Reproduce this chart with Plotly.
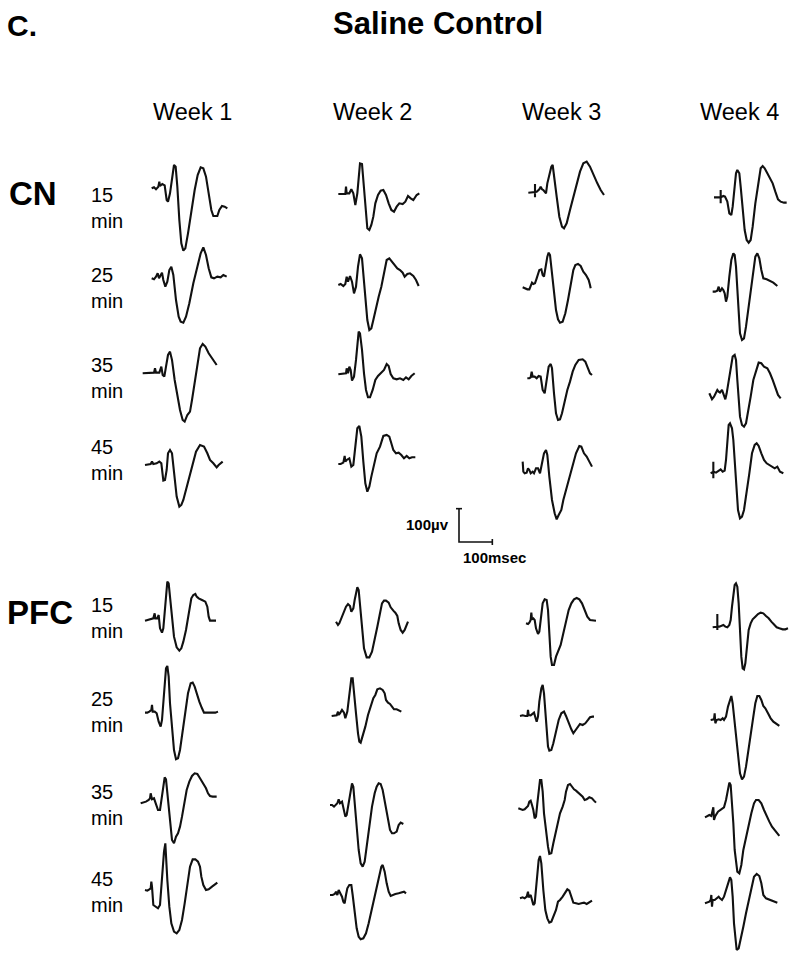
import plotly.graph_objects as go

# ---------------- text / categories ----------------
PANEL_LABEL = "C."
TITLE = "Saline Control"
WEEKS = ["Week 1", "Week 2", "Week 3", "Week 4"]
MINUTES = ["15", "25", "35", "45"]
REGIONS = ["CN", "PFC"]
SCALE_UV = 100   # µV
SCALE_MS = 100   # ms

# ---------------- waveform data: time (ms) and potential (µV, relative to row reference) ----
cn_w1_15_t = [65,72,78,85,88,90,97,104,110,114,120,126,132,137,142,148,154,160,166,174,184,194,203,212,220,228,236,244,250,262,268,276,284,292]
cn_w1_15_v = [5,8,2,10,25,12,18,14,-30,-35,-10,40,75,70,10,-90,-160,-182,-175,-130,-60,0,45,68,65,40,-10,-60,-78,-78,-60,-48,-50,-55]
cn_w1_25_t = [65,72,78,83,87,92,96,100,106,112,118,124,130,138,146,152,160,168,178,190,202,212,220,228,236,244,252,262,272,280,290]
cn_w1_25_v = [5,2,10,20,5,15,22,0,-20,-5,30,40,15,-60,-110,-125,-128,-110,-70,-10,40,80,98,75,35,8,5,10,8,15,10]
cn_w1_35_t = [38,50,62,72,75,78,88,94,98,103,108,114,120,126,134,142,150,158,164,172,180,186,194,202,210,218,226,236,244,252,260]
cn_w1_35_v = [0,0,0,2,15,2,2,20,-5,-10,20,55,65,40,-20,-70,-110,-140,-145,-125,-115,-80,-30,30,75,88,80,60,48,35,25]
cn_w1_45_t = [45,55,62,66,70,80,88,94,100,105,110,114,120,126,132,140,148,154,160,168,178,188,198,210,222,232,240,250,260,266,278]
cn_w1_45_v = [-5,-2,-2,5,-2,0,5,0,-52,-50,-20,30,40,30,-30,-100,-130,-125,-110,-80,-40,0,35,55,50,30,10,0,-12,-5,5]

cn_w2_15_t = [55,62,70,76,78,80,88,94,100,106,112,116,120,126,130,136,142,148,154,160,166,174,182,190,198,206,214,222,230,238,248,256,264,272,280,290,298]
cn_w2_15_v = [-12,-12,-10,-12,10,-10,-10,2,-10,-45,-10,50,80,78,30,-60,-115,-120,-105,-80,-40,-15,-2,0,-15,-40,-60,-65,-50,-40,-42,-35,-18,-25,-30,-15,-10]
cn_w2_25_t = [55,62,70,76,80,84,90,96,102,108,114,120,126,130,136,142,148,154,160,168,176,184,192,200,208,216,224,232,240,248,254,262,270,280,288,296]
cn_w2_25_v = [-15,-12,-18,-12,10,-5,12,-5,-40,-20,40,77,65,20,-60,-120,-150,-145,-120,-80,-50,-20,20,60,65,55,42,35,30,22,10,18,20,12,0,-18]
cn_w2_35_t = [55,62,70,78,80,84,88,92,96,102,108,112,116,120,126,132,138,144,150,158,166,174,182,192,200,206,212,220,230,240,250,258,266,274,284]
cn_w2_35_v = [-3,-2,-2,0,15,0,20,10,-22,-10,40,95,125,120,70,0,-50,-72,-72,-50,-20,-8,0,10,28,22,-2,-15,-18,-15,-20,-12,-18,-8,0]
cn_w2_45_t = [55,62,70,74,76,80,88,94,100,106,112,118,124,130,136,142,148,154,162,170,180,190,200,208,214,220,228,236,244,252,260,268,276,286]
cn_w2_45_v = [-2,-2,2,22,5,10,15,-10,-5,50,105,112,80,5,-60,-85,-70,-40,0,30,50,82,85,80,60,40,30,32,25,15,22,15,18,18]

cn_w3_15_t = [55,65,75,75,75,75,80,88,92,96,100,108,112,118,124,128,132,140,148,156,162,170,180,190,200,210,220,230,240,250,262,272,282]
cn_w3_15_v = [-8,-8,-6,18,-22,-6,-5,2,10,2,0,-10,20,45,70,75,40,-20,-80,-110,-115,-100,-60,-20,20,55,80,85,70,45,20,0,-15]
cn_w3_25_t = [38,45,52,58,62,66,70,75,80,88,94,98,102,106,112,116,120,126,132,138,144,150,158,166,174,182,190,196,204,212,220,228,236,240,242]
cn_w3_25_v = [-22,-25,-28,-28,-18,-8,-12,-10,5,30,32,15,10,40,70,82,75,20,-40,-90,-118,-128,-125,-100,-60,-15,30,45,48,42,25,15,0,-15,-25]
cn_w3_35_t = [52,58,62,65,68,74,80,86,92,98,104,110,116,122,126,132,138,144,150,156,164,172,180,188,196,206,218,226,234,240,246]
cn_w3_35_v = [-15,-15,-12,5,-10,-10,-15,-8,-10,-50,-60,-20,20,28,15,-60,-120,-140,-138,-120,-80,-50,-25,5,25,40,42,35,15,0,-5]
cn_w3_45_t = [38,40,44,50,54,58,62,68,72,78,84,90,96,102,108,112,118,126,134,140,146,154,160,168,178,188,198,208,214,222,230,238,246]
cn_w3_45_v = [5,-25,-30,-28,-15,-20,-30,-25,-30,-15,-15,-30,0,30,40,25,-40,-110,-150,-168,-155,-140,-110,-80,-40,0,30,52,50,30,20,5,-10]

cn_w4_15_t = [72,85,92,92,92,92,100,105,112,118,124,128,134,138,142,148,152,158,164,170,176,182,188,196,204,212,218,224,232,240,248,256,264,272,282,290]
cn_w4_15_v = [-22,-22,-22,0,-40,-22,-18,-20,-35,-70,-75,-50,10,50,60,50,10,-60,-120,-150,-158,-150,-110,-40,20,65,72,65,50,35,20,-5,-28,-35,-38,-38]
cn_w4_25_t = [68,75,82,86,90,96,100,104,108,112,118,124,130,134,138,142,146,150,156,162,168,176,184,190,196,202,208,214,220,230,240,250,262]
cn_w4_25_v = [-35,-35,-32,-20,-35,-25,-30,-40,-65,-50,10,60,80,75,40,-30,-100,-160,-180,-175,-140,-80,-20,30,70,80,65,30,5,2,-2,-8,-18]
cn_w4_35_t = [58,62,66,72,78,82,86,90,96,100,106,110,116,122,128,134,138,142,146,150,156,162,168,174,182,190,198,206,214,222,232,240,248,256,264,272]
cn_w4_35_v = [-60,-72,-78,-70,-60,-50,-55,-58,-50,-60,-78,-60,-20,25,50,55,40,-20,-80,-130,-155,-160,-150,-120,-70,-20,10,32,30,20,15,0,-20,-45,-65,-75]
cn_w4_45_t = [62,70,70,70,70,78,86,92,98,104,108,112,116,120,126,130,134,138,144,150,156,162,170,178,186,194,200,206,214,222,230,238,246,254,262,270,280]
cn_w4_45_v = [-30,-25,5,-45,-25,-28,-22,-18,-25,-22,10,70,115,120,105,70,10,-70,-140,-165,-160,-140,-90,-30,30,55,60,52,30,10,0,-5,-10,-15,-10,-25,-30]

pfc_w1_15_t = [45,52,62,70,74,76,82,86,90,96,100,104,108,112,116,120,126,132,140,148,154,160,168,174,178,184,190,196,200,206,216,226,232,236,240,250,258]
pfc_w1_15_v = [-2,0,2,5,20,5,5,15,-25,-38,-25,30,90,115,110,70,0,-50,-82,-92,-85,-65,-30,10,40,65,75,78,70,65,60,55,40,10,-2,-2,-2]
pfc_w1_25_t = [45,52,58,64,66,68,74,80,86,92,96,100,104,108,112,116,120,126,132,138,144,150,158,166,174,182,188,194,200,208,216,222,232,244,256,264]
pfc_w1_25_v = [2,2,5,10,25,5,5,0,-25,-40,-20,30,90,135,142,110,30,-50,-110,-138,-135,-110,-50,10,60,90,92,80,60,35,15,2,2,2,2,5]
pfc_w1_35_t = [32,40,48,56,60,62,66,72,78,84,90,96,100,104,108,114,120,126,132,138,144,150,156,162,170,178,186,194,202,210,220,228,234,240,248,260]
pfc_w1_35_v = [0,2,5,10,15,30,12,15,0,-20,-20,20,60,78,72,10,-60,-110,-120,-100,-90,-70,-40,0,40,65,82,90,88,75,60,45,30,22,20,20]
pfc_w1_45_t = [45,52,58,62,64,66,70,76,84,90,94,98,102,106,108,112,118,124,132,140,148,156,164,172,180,188,196,204,210,214,220,228,236,246,256,262]
pfc_w1_45_v = [0,-2,2,5,25,10,-45,-50,-55,-45,10,60,115,140,100,30,-50,-100,-125,-130,-120,-90,-40,20,70,92,92,85,70,40,15,0,2,10,18,22]

pfc_w2_15_t = [48,54,58,62,66,72,78,84,90,94,100,104,108,112,116,120,126,132,140,148,156,164,172,180,186,192,198,206,212,220,226,232,236,242,248,254,260,264]
pfc_w2_15_v = [-5,-15,-10,0,15,25,40,48,42,25,35,60,85,98,90,40,-30,-85,-112,-112,-95,-60,-20,20,50,58,58,52,38,28,22,12,-10,-30,-38,-30,-15,-5]
pfc_w2_25_t = [35,42,50,54,56,60,66,72,76,82,86,90,94,98,102,108,114,118,122,128,136,144,152,160,166,172,180,188,194,198,204,210,216,222,230,236,244]
pfc_w2_25_v = [-8,-8,-6,5,-5,0,10,2,-15,5,45,85,105,105,70,0,-60,-85,-88,-70,-40,-5,22,45,55,72,75,70,60,40,32,28,20,12,12,8,5]
pfc_w2_35_t = [30,36,42,48,52,56,60,66,72,76,80,86,92,96,100,104,110,116,122,128,134,140,148,156,164,170,176,182,188,196,204,210,216,222,230,236,242,250]
pfc_w2_35_v = [-5,-5,-10,-5,0,12,0,5,-25,-40,-35,5,45,60,50,0,-80,-140,-180,-190,-175,-130,-70,-10,30,50,60,58,40,0,-50,-80,-90,-90,-85,-65,-58,-62]
pfc_w2_45_t = [30,38,44,48,52,56,60,66,70,74,78,82,88,94,98,104,110,116,122,130,138,146,154,162,170,178,184,188,194,200,206,212,218,226,236,244,252,258]
pfc_w2_45_v = [-15,-15,-12,-5,-15,0,-8,-20,-35,-40,-15,5,15,15,-15,-70,-115,-140,-148,-145,-130,-100,-65,-30,10,50,70,75,55,20,-5,-18,-15,-12,-10,-8,-5,-10]

pfc_w3_15_t = [48,54,58,62,64,66,70,74,78,84,88,94,98,104,110,114,118,122,126,132,138,146,152,160,168,176,184,192,200,208,216,224,232,240,250,258]
pfc_w3_15_v = [-10,-12,-8,0,22,2,5,0,-25,-42,-35,10,50,62,60,30,-50,-110,-135,-135,-110,-90,-75,-40,0,30,50,62,66,62,50,30,10,0,-2,-2]
pfc_w3_25_t = [30,38,46,52,54,56,62,68,72,76,80,84,88,94,98,102,106,110,114,118,124,130,138,146,154,162,168,176,184,190,196,204,210,218,226,234,240,248,252]
pfc_w3_25_v = [-8,-6,-8,-8,10,-5,-6,0,2,-12,-25,-10,35,75,85,60,0,-60,-100,-112,-110,-90,-50,-20,0,5,-8,-30,-48,-60,-52,-40,-32,-35,-30,-20,-12,-10,-10]
pfc_w3_35_t = [25,32,38,44,50,54,58,62,66,70,74,78,82,86,90,94,98,102,108,114,118,124,130,136,142,150,158,164,168,174,180,186,192,198,206,212,218,224,230,238,246,252,258]
pfc_w3_35_v = [-15,-18,-20,-18,-12,-8,5,8,-5,-20,-45,-40,0,40,70,70,35,-30,-90,-130,-152,-150,-120,-90,-60,-30,-10,10,35,55,58,50,42,38,30,25,20,10,12,18,15,8,2]
pfc_w3_45_t = [30,38,44,50,54,56,62,66,70,74,78,82,86,90,94,100,106,112,118,124,130,138,144,150,158,164,172,178,184,190,198,206,214,222,230,238,246]
pfc_w3_45_v = [-25,-22,-25,-20,-5,-22,-15,-30,-45,-40,0,50,90,102,80,0,-60,-85,-98,-95,-80,-60,-35,-30,-20,-10,2,-2,-20,-38,-40,-42,-40,-38,-42,-38,-32]

pfc_w4_15_t = [68,75,82,82,82,82,88,94,100,106,112,118,122,126,130,134,138,142,146,150,154,158,162,166,170,176,182,188,196,204,212,220,228,236,244,252,260,268,278,286,294]
pfc_w4_15_v = [-22,-22,-20,18,-30,-20,-20,-18,-15,-20,-22,-15,0,40,80,105,110,100,50,-30,-110,-145,-148,-130,-80,-30,-10,2,10,18,22,20,12,5,-5,-15,-22,-25,-28,-28,-25]
pfc_w4_25_t = [62,68,72,74,76,80,86,92,98,102,108,114,120,124,128,134,140,146,150,156,162,168,176,184,190,196,202,208,214,220,226,234,242,250,258,268]
pfc_w4_25_v = [-20,-20,-18,0,-30,-20,-18,-20,-15,-20,-10,20,45,52,30,-30,-90,-145,-180,-198,-190,-160,-110,-60,-10,30,52,52,40,22,15,0,-15,-25,-32,-38]
pfc_w4_35_t = [45,52,58,64,68,70,72,76,84,90,96,102,108,114,118,122,126,130,134,138,142,148,154,160,168,176,184,192,198,206,214,222,230,238,246,254,262,268]
pfc_w4_35_v = [-42,-38,-35,-38,-25,-12,-50,-38,-25,-20,-15,-12,10,40,62,55,10,-60,-140,-180,-205,-210,-185,-140,-100,-60,-30,0,10,10,0,-20,-40,-55,-70,-80,-90,-98]
pfc_w4_45_t = [45,52,58,62,64,66,68,74,80,86,90,96,102,108,114,120,124,128,132,136,140,146,152,160,168,176,184,192,200,208,214,220,228,236,246,256,262]
pfc_w4_45_v = [-40,-38,-35,-30,-15,-50,-30,-30,-25,-20,-25,-30,-20,0,25,38,30,-20,-100,-150,-180,-175,-150,-110,-70,-30,10,40,48,42,20,-15,-25,-28,-32,-35,-38]

WAVES = {
    ("CN", 0): [(cn_w1_15_t, cn_w1_15_v), (cn_w1_25_t, cn_w1_25_v), (cn_w1_35_t, cn_w1_35_v), (cn_w1_45_t, cn_w1_45_v)],
    ("CN", 1): [(cn_w2_15_t, cn_w2_15_v), (cn_w2_25_t, cn_w2_25_v), (cn_w2_35_t, cn_w2_35_v), (cn_w2_45_t, cn_w2_45_v)],
    ("CN", 2): [(cn_w3_15_t, cn_w3_15_v), (cn_w3_25_t, cn_w3_25_v), (cn_w3_35_t, cn_w3_35_v), (cn_w3_45_t, cn_w3_45_v)],
    ("CN", 3): [(cn_w4_15_t, cn_w4_15_v), (cn_w4_25_t, cn_w4_25_v), (cn_w4_35_t, cn_w4_35_v), (cn_w4_45_t, cn_w4_45_v)],
    ("PFC", 0): [(pfc_w1_15_t, pfc_w1_15_v), (pfc_w1_25_t, pfc_w1_25_v), (pfc_w1_35_t, pfc_w1_35_v), (pfc_w1_45_t, pfc_w1_45_v)],
    ("PFC", 1): [(pfc_w2_15_t, pfc_w2_15_v), (pfc_w2_25_t, pfc_w2_25_v), (pfc_w2_35_t, pfc_w2_35_v), (pfc_w2_45_t, pfc_w2_45_v)],
    ("PFC", 2): [(pfc_w3_15_t, pfc_w3_15_v), (pfc_w3_25_t, pfc_w3_25_v), (pfc_w3_35_t, pfc_w3_35_v), (pfc_w3_45_t, pfc_w3_45_v)],
    ("PFC", 3): [(pfc_w4_15_t, pfc_w4_15_v), (pfc_w4_25_t, pfc_w4_25_v), (pfc_w4_35_t, pfc_w4_35_v), (pfc_w4_45_t, pfc_w4_45_v)],
}

# ---------------- layout (pixels) ----------------
W, H = 800, 961
U = 3.0  # data units (ms or µV) per pixel, shared by every panel and the scale bar
COL_X = [130, 320, 510, 690]
ROW_Y = {"CN": [190, 280, 373.3, 463.3], "PFC": [620, 713.3, 803.3, 890]}
WEEK_LABEL_X = [192, 372, 561, 739]
WEEK_LABEL_Y = 112
MIN_LABEL_X = 89
MIN_LABEL_Y = {"CN": [208, 288, 378, 460], "PFC": [618, 712, 805, 892]}
REGION_LABEL = {"CN": (7, 194), "PFC": (5, 612)}
SCALE_ORIGIN = (459, 542)
CAP = 9
FONT = "Arial, 'Liberation Sans', sans-serif"
INK = "#111111"

fig = go.Figure()
layout = {}


def add_axes(k, xl, xr, x0, yt, yb, y0):
    name = "" if k == 1 else str(k)
    xl, xr = max(xl, 0), min(xr, W)
    yt, yb = max(yt, 0), min(yb, H)
    common = dict(visible=False, fixedrange=True, showgrid=False, zeroline=False)
    layout["xaxis" + name] = dict(domain=[xl / W, xr / W], range=[(xl - x0) * U, (xr - x0) * U],
                                  anchor="y" + name, **common)
    layout["yaxis" + name] = dict(domain=[1 - yb / H, 1 - yt / H], range=[(y0 - yb) * U, (y0 - yt) * U],
                                  anchor="x" + name, **common)
    return ("x" + name, "y" + name)


k = 0
for region in REGIONS:
    for c in range(4):
        for m in range(4):
            t, v = WAVES[(region, c)][m]
            n = min(len(t), len(v))
            k += 1
            ry = ROW_Y[region][m]
            xa, ya = add_axes(k, COL_X[c], COL_X[c] + 120, COL_X[c], ry - 60, ry + 80, ry)
            fig.add_trace(go.Scatter(x=t[:n], y=v[:n], mode="lines", xaxis=xa, yaxis=ya,
                                     line=dict(color=INK, width=2.1), hoverinfo="skip", showlegend=False))

# scale bar
k += 1
sx, sy = SCALE_ORIGIN
xa, ya = add_axes(k, sx - 60, sx + 80, sx, sy - 45, sy + 30, sy)
for xs, ys in [([0, 0, SCALE_MS], [SCALE_UV, 0, 0]), ([-CAP, CAP], [SCALE_UV, SCALE_UV]),
               ([SCALE_MS, SCALE_MS], [-CAP, CAP])]:
    fig.add_trace(go.Scatter(x=xs, y=ys, mode="lines", xaxis=xa, yaxis=ya,
                             line=dict(color=INK, width=1.6), hoverinfo="skip", showlegend=False))

ann = []


def paper_text(text, x, y, size, xanchor="center", bold=False, align="center"):
    ann.append(dict(text=("<b>%s</b>" % text) if bold else text, x=x / W, y=1 - y / H,
                    xref="paper", yref="paper", xanchor=xanchor, yanchor="middle", align=align,
                    showarrow=False, font=dict(family=FONT, size=size, color="#000")))


paper_text(PANEL_LABEL, 5, 26, 30, xanchor="left", bold=True)
paper_text(TITLE, 438, 24, 31, bold=True)
for i, wk in enumerate(WEEKS):
    paper_text(wk, WEEK_LABEL_X[i], WEEK_LABEL_Y, 23.5)
for region in REGIONS:
    rx, ry = REGION_LABEL[region]
    paper_text(region, rx, ry, 33, xanchor="left", bold=True)
    for m, mn in enumerate(MINUTES):
        paper_text(mn + "<br>min", MIN_LABEL_X, MIN_LABEL_Y[region][m], 20, xanchor="left", align="left")

ann.append(dict(text="<b>%dµv</b>" % SCALE_UV, x=-24, y=52, xref=xa, yref=ya, xanchor="right",
                yanchor="middle", showarrow=False, font=dict(family=FONT, size=15, color="#000")))
ann.append(dict(text="<b>%dmsec</b>" % SCALE_MS, x=6, y=-45, xref=xa, yref=ya, xanchor="left",
                yanchor="middle", showarrow=False, font=dict(family=FONT, size=15, color="#000")))

fig.update_layout(width=W, height=H, margin=dict(l=0, r=0, t=0, b=0, pad=0),
                  paper_bgcolor="white", plot_bgcolor="rgba(0,0,0,0)", showlegend=False,
                  annotations=ann, **layout)
fig.write_html("out.html", config={"displayModeBar": False, "staticPlot": True},
               post_script="document.body.style.margin='0px';")
